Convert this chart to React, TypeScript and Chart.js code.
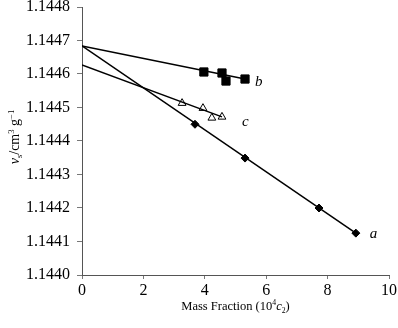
import React, { useEffect, useRef } from "react";
import { Chart, registerables } from "chart.js";

Chart.register(...registerables);

// Series a (filled diamonds)
const aX = [3.68, 5.31, 7.72, 8.92];
const aY = [1.14445, 1.144349, 1.1442, 1.144125];
// Series b (filled squares)
const bX = [3.97, 4.56, 4.69, 5.31];
const bY = [1.144606, 1.144603, 1.144579, 1.144585];
// Series c (open triangles)
const cX = [3.26, 3.94, 4.23, 4.56];
const cY = [1.144513, 1.144498, 1.144469, 1.144472];

// Fitted trend lines (start and end)
const trendAX = [0, 8.92];
const trendAY = [1.144684, 1.144125];
const trendBX = [0, 5.31];
const trendBY = [1.144684, 1.144585];
const trendCX = [0, 4.56];
const trendCY = [1.144627, 1.144472];

const seriesLabels = ["a", "b", "c"];

const xTicks = [0, 2, 4, 6, 8, 10];
const yTicks = [1.144, 1.1441, 1.1442, 1.1443, 1.1444, 1.1445, 1.1446, 1.1447, 1.1448];

const SERIF = "'Liberation Serif', 'Times New Roman', serif";

Chart.defaults.font.family = SERIF;

const pts = (xs: number[], ys: number[]) => xs.map((x, i) => ({ x, y: ys[i] }));

type Seg = { t: string; italic?: boolean; sup?: boolean; sub?: boolean };

function drawSegs(ctx: CanvasRenderingContext2D, segs: Seg[], cx: number, cy: number, size: number) {
  const small = size * 0.62;
  const fontOf = (s: Seg) => `${s.italic ? "italic " : ""}${s.sup || s.sub ? small : size}px ${SERIF}`;
  let total = 0;
  for (const s of segs) {
    ctx.font = fontOf(s);
    total += ctx.measureText(s.t).width;
  }
  let x = cx - total / 2;
  ctx.textBaseline = "alphabetic";
  ctx.textAlign = "left";
  for (const s of segs) {
    ctx.font = fontOf(s);
    const dy = s.sup ? -size * 0.38 : s.sub ? size * 0.22 : 0;
    ctx.fillText(s.t, x, cy + dy);
    x += ctx.measureText(s.t).width;
  }
}

const annotPlugin = {
  id: "annot",
  afterDraw(chart: any) {
    const ctx: CanvasRenderingContext2D = chart.ctx;
    const xs = chart.scales.x;
    const ys = chart.scales.y;
    const area = chart.chartArea;
    ctx.save();
    ctx.fillStyle = "#000";
    // x title
    drawSegs(
      ctx,
      [{ t: "Mass Fraction (10" }, { t: "4", sup: true }, { t: "c", italic: true }, { t: "2", sub: true }, { t: ")" }],
      (area.left + area.right) / 2,
      310,
      12.5
    );
    // y title
    ctx.save();
    ctx.translate(19, (area.top + area.bottom) / 2 - 4);
    ctx.rotate(-Math.PI / 2);
    drawSegs(
      ctx,
      [
        { t: "v", italic: true },
        { t: "s", sub: true },
        { t: "/cm" },
        { t: "3", sup: true },
        { t: " g" },
        { t: "\u22121", sup: true },
      ],
      0,
      0,
      14
    );
    ctx.restore();
    // series labels
    ctx.font = `italic 15px ${SERIF}`;
    ctx.textAlign = "left";
    ctx.textBaseline = "middle";
    const lastA = aX.length - 1;
    ctx.fillText(seriesLabels[0], xs.getPixelForValue(aX[lastA]) + 14, ys.getPixelForValue(aY[lastA]) + 1);
    const lastB = bX.length - 1;
    ctx.fillText(seriesLabels[1], xs.getPixelForValue(bX[lastB]) + 10, ys.getPixelForValue(bY[lastB]) + 3);
    const lastC = cX.length - 1;
    ctx.fillText(seriesLabels[2], xs.getPixelForValue(cX[lastC]) + 20, ys.getPixelForValue(cY[lastC]) + 5);
    ctx.restore();
  },
};

export default function App() {
  const ref = useRef<HTMLCanvasElement | null>(null);
  useEffect(() => {
    document.body.style.margin = "0";
    const lineDs = (xs: number[], ys: number[]) => ({
      data: pts(xs, ys),
      showLine: true,
      borderColor: "#000",
      borderWidth: 1.5,
      pointRadius: 0,
      fill: false,
    });
    const chart = new Chart(ref.current as HTMLCanvasElement, {
      type: "scatter",
      data: {
        datasets: [
          lineDs(trendAX, trendAY),
          lineDs(trendBX, trendBY),
          lineDs(trendCX, trendCY),
          {
            label: seriesLabels[0],
            data: pts(aX, aY),
            pointStyle: "rectRot",
            pointRadius: 4,
            backgroundColor: "#000",
            borderColor: "#000",
            borderWidth: 1,
          },
          {
            label: seriesLabels[1],
            data: pts(bX, bY),
            pointStyle: "rect",
            pointRadius: 5.8,
            backgroundColor: "#000",
            borderColor: "#000",
            borderWidth: 1,
          },
          {
            label: seriesLabels[2],
            data: pts(cX, cY),
            pointStyle: "triangle",
            pointRadius: 4.5,
            backgroundColor: "#fff",
            borderColor: "#000",
            borderWidth: 1,
          },
        ] as any,
      },
      options: {
        animation: false,
        responsive: true,
        maintainAspectRatio: false,
        layout: { padding: { left: 0, top: 7, right: 9, bottom: 0 } },
        plugins: { legend: { display: false }, tooltip: { enabled: false }, title: { display: false } },
        scales: {
          x: {
            type: "linear",
            min: xTicks[0],
            max: xTicks[xTicks.length - 1],
            afterBuildTicks: (s: any) => {
              s.ticks = xTicks.map((v) => ({ value: v }));
            },
            afterFit: (s: any) => {
              s.height = 53;
              s.paddingLeft = 0;
              s.paddingRight = 0;
            },
            ticks: {
              color: "#000",
              font: { family: SERIF, size: 16 },
              padding: 2,
              maxRotation: 0,
              callback: (v: any) => String(v),
            },
            grid: { drawOnChartArea: false, drawTicks: true, tickLength: 4, color: "#777" },
            border: { display: true, color: "#555", width: 1 },
          },
          y: {
            type: "linear",
            min: yTicks[0],
            max: yTicks[yTicks.length - 1],
            afterBuildTicks: (s: any) => {
              s.ticks = yTicks.map((v) => ({ value: v }));
            },
            afterFit: (s: any) => {
              s.width = 82;
              s.paddingTop = 0;
              s.paddingBottom = 0;
            },
            ticks: {
              color: "#000",
              font: { family: SERIF, size: 16 },
              padding: 7,
              callback: (v: any) => Number(v).toFixed(4),
            },
            grid: { drawOnChartArea: false, drawTicks: true, tickLength: 5, color: "#777" },
            border: { display: true, color: "#555", width: 1 },
          },
        },
      },
      plugins: [annotPlugin],
    } as any);
    return () => chart.destroy();
  }, []);
  return (
    <div style={{ position: "absolute", left: 0, top: 0, width: 398, height: 328 }}>
      <canvas ref={ref} />
    </div>
  );
}
